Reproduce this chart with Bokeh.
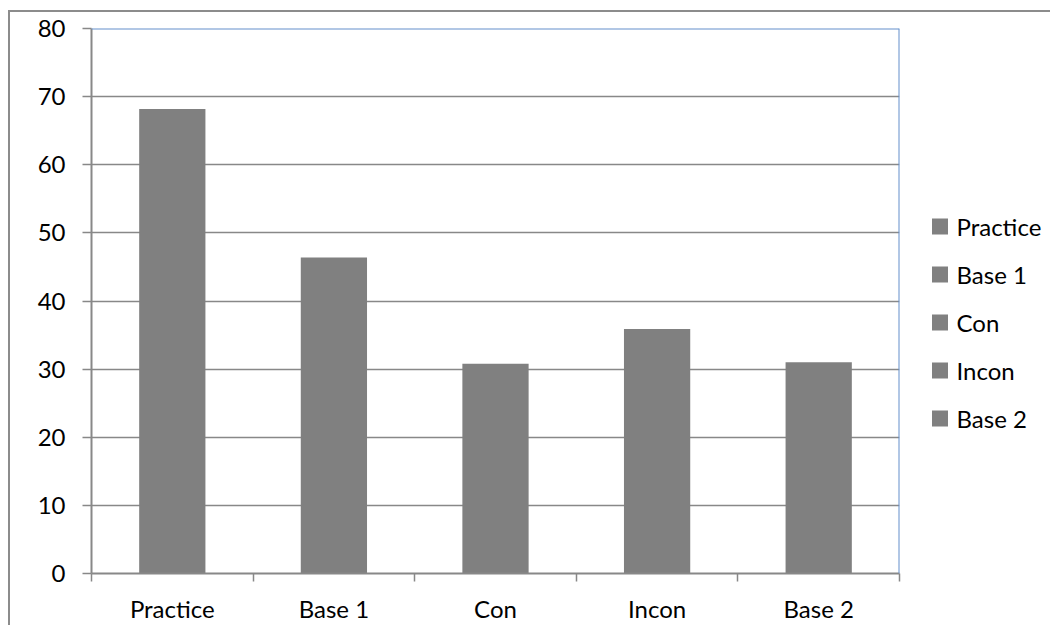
from bokeh.plotting import figure
from bokeh.layouts import row
from bokeh.models import ColumnDataSource, Range1d, LinearAxis, FixedTicker, Grid, Span
from bokeh.core.properties import value
from bokeh.embed import file_html
from bokeh.resources import INLINE

categories = ["Practice", "Base 1", "Con", "Incon", "Base 2"]
values = [68.2, 46.4, 30.8, 35.9, 31.0]
y_ticks = [0, 10, 20, 30, 40, 50, 60, 70, 80]

FONT = "Lato"
FS = "24px"
GRAY = "#888888"
BLUE = "#6490cc"
BAR = "#808080"

n = len(categories)
centers = [i + 0.5 for i in range(n)]
edges = list(range(n + 1))
src = ColumnDataSource(data=dict(x=centers, cat=categories, val=values, idx=list(range(n)),
                                 lx=[0] * n))

p = figure(x_range=Range1d(0, n), y_range=Range1d(0, 80),
           width=891, height=613, output_backend="svg", toolbar_location=None,
           x_axis_location=None, y_axis_location=None,
           min_border_left=81, min_border_right=2, min_border_top=16, min_border_bottom=52)
p.outline_line_color = None
p.grid.visible = False

r = p.vbar(x="x", top="val", width=0.41, source=src, fill_color=BAR, line_color=None)

grid = Grid(dimension=1, ticker=FixedTicker(ticks=y_ticks[1:-1]),
            grid_line_color=GRAY, grid_line_width=1.5)
p.add_layout(grid)

yax = LinearAxis(ticker=FixedTicker(ticks=y_ticks), major_tick_out=9, major_tick_in=0,
                 minor_tick_out=0, minor_tick_in=0, axis_line_color=GRAY, axis_line_width=2,
                 major_tick_line_color=GRAY, major_tick_line_width=1.5,
                 major_label_text_font=FONT, major_label_text_font_size=FS,
                 major_label_text_color="black", major_label_standoff=17)
p.add_layout(yax, "left")

xax = LinearAxis(ticker=FixedTicker(ticks=centers, minor_ticks=edges),
                 major_label_overrides={c: lab for c, lab in zip(centers, categories)},
                 major_tick_out=0, major_tick_in=0, minor_tick_out=8, minor_tick_in=0,
                 axis_line_color=GRAY, axis_line_width=2,
                 minor_tick_line_color=GRAY, minor_tick_line_width=1.5,
                 major_label_text_font=FONT, major_label_text_font_size=FS,
                 major_label_text_color="black", major_label_standoff=12)
p.add_layout(xax, "below")

p.add_layout(Span(location=80, dimension="width", line_color=BLUE, line_width=2))
p.add_layout(Span(location=n, dimension="height", line_color=BLUE, line_width=2))

# legend panel drawn as its own small figure (frame aligned with the main frame)
lg = figure(x_range=Range1d(-38.5, 110.5), y_range=Range1d(7.229, -4.125),
            width=149, height=613, output_backend="svg", toolbar_location=None,
            x_axis_location=None, y_axis_location=None,
            min_border_left=0, min_border_right=0, min_border_top=16, min_border_bottom=52)
lg.outline_line_color = None
lg.grid.visible = False
lg.scatter(x="lx", y="idx", source=src, marker="square", size=16,
           fill_color=BAR, line_color=None)
lg.text(x="lx", y="idx", text="cat", source=src, x_offset=16.5, text_baseline="middle",
        text_align="left", text_font=value(FONT), text_font_size=FS, text_color="black")

layout = row(p, lg, spacing=0)
layout.styles = {"margin-left": "8px", "margin-top": "10px",
                 "border-left": "2px solid #8c8c8c", "border-top": "2px solid #8c8c8c"}

open("out.html", "w").write(file_html(layout, INLINE))
